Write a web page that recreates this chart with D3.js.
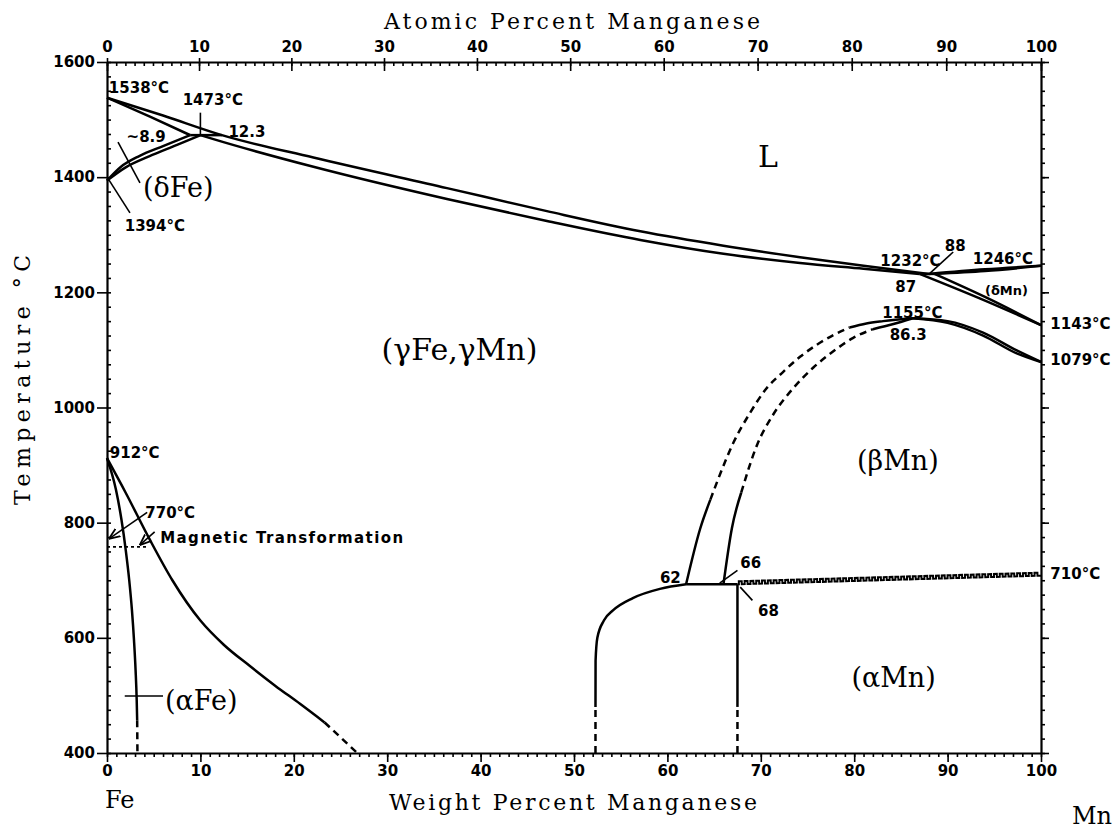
<!DOCTYPE html>
<html>
<head>
<meta charset="utf-8">
<script src="https://cdn.jsdelivr.net/npm/d3@7"></script>
<style>
  body { margin: 0; background: #fff; }
  svg { display: block; }
  .tick text { font-family: "DejaVu Sans", sans-serif; font-weight: bold; font-size: 15px; fill: #000; }
  .tick line { stroke-width: 1.6; }
  .domain { stroke-width: 2.2; }
  .lbl { font-family: "DejaVu Sans", sans-serif; font-weight: bold; font-size: 15px; }
  .small { font-family: "DejaVu Sans", sans-serif; font-weight: bold; font-size: 13px; }
  .phase { font-family: "DejaVu Serif", serif; font-size: 27px; }
  .title { font-family: "DejaVu Serif", serif; font-size: 22px; }
</style>
</head>
<body>
<div id="chart"></div>
<script>
const WIDTH = 1119;
const HEIGHT = 830;

// tick values
const WT_TICKS = d3.range(0, 101, 10);
const AT_TICKS = d3.range(0, 101, 10);
const TEMP_TICKS = d3.range(400, 1601, 200);
const WT_MINOR = d3.range(0, 101, 1);
const AT_MINOR = d3.range(0, 101, 1);
const TEMP_MINOR = d3.range(400, 1601, 25);

// phase boundaries, [wt% Mn, temperature °C]
const liquidus = [[0, 1538], [6, 1507], [12.3, 1473], [22.1, 1434], [36.4, 1381], [47.1, 1341], [57.1, 1306], [66, 1281], [74.2, 1261], [81, 1246], [88, 1232]];
const gammaSolidus = [[10, 1473], [11.4, 1466], [22.1, 1418], [36.4, 1362], [47.1, 1324], [57.1, 1291], [66, 1267], [74.2, 1251], [81, 1241], [87, 1232]];
const deltaSolidus = [[0, 1538], [4.6, 1505], [8.9, 1473]];
const peritecticFe = [[8.9, 1473], [12.3, 1473]];
const deltaGammaLow = [[0, 1394], [1.5, 1418], [3.5, 1437], [6, 1454], [8.9, 1473]];
const deltaGammaHigh = [[0, 1394], [2, 1417], [4.5, 1436], [7.5, 1456], [10, 1473]];

const deltaMnLiquidus = [[88, 1232], [94, 1240], [100, 1246]];
const deltaMnSolidus = [[88.6, 1232], [94, 1237], [100, 1246]];
const peritecticMn = [[87, 1232], [88.6, 1232]];
const gammaDeltaMnLow = [[87, 1232], [93.5, 1189], [100, 1143]];
const gammaDeltaMnHigh = [[88.6, 1232], [94, 1192], [100, 1143]];

const betaDomeUpper = [[86.3, 1155], [90, 1150], [93.8, 1130], [97.4, 1099], [100, 1079]];
const betaDomeLower = [[86.3, 1155], [90, 1147], [93.8, 1125], [97.4, 1094], [100, 1079]];
const gammaBetaLeft = [[62, 693], [63.5, 789], [64.6, 840]];
const gammaBetaLeftDashed = [[64.6, 840], [65.3, 870], [67.1, 940], [68.9, 992], [70.6, 1033], [72.4, 1062], [74.2, 1088], [76, 1109], [77.8, 1126], [79.5, 1139]];
const gammaBetaLeftTop = [[79.5, 1139], [81.3, 1146], [83.1, 1150], [86.3, 1155]];
const gammaBetaRight = [[66, 693], [66.9, 790], [67.9, 852]];
const gammaBetaRightDashed = [[67.9, 852], [69.6, 935], [71.3, 987], [73.5, 1034], [75.6, 1069], [77.8, 1098], [79.9, 1121], [82, 1136]];
const gammaBetaRightTop = [[82, 1136], [84.2, 1145], [86.3, 1155]];

const alphaSolvus = [[0, 912], [0.96, 857], [1.55, 805], [2.01, 752], [2.38, 700], [2.67, 648], [2.89, 596], [3.06, 544], [3.18, 492], [3.23, 457]];
const alphaSolvusDashed = [[3.23, 457], [3.26, 400]];
const gammaAlpha = [[0, 912], [2, 852], [4.6, 770], [7, 700], [10, 630], [12.5, 588], [15.3, 551], [18, 517], [20.7, 485], [23.3, 453]];
const gammaAlphaDashed = [[23.3, 453], [26.8, 400]];
const curieLine = [[0, 758], [4.4, 758]];

const alphaMnLeft = [[52.3, 480], [52.31, 560], [52.5, 600], [53.2, 630], [54.2, 648], [56.3, 669], [59.2, 685], [62, 693]];
const alphaMnLeftDashed = [[52.3, 400], [52.3, 480]];
const alphaMnRight = [[67.5, 480], [67.5, 693]];
const alphaMnRightDashed = [[67.5, 400], [67.5, 480]];
const eutectoid = [[62, 693], [67.5, 693]];
const alphaBetaMn = [[67.5, 693], [100, 708]];

// atomic % -> weight % (Fe 55.845, Mn 54.938)
function atToWt(a) {
    return 100 * a * 54.938 / (a * 54.938 + (100 - a) * 55.845);
}

const svg = d3.select('#chart')
    .append('svg')
    .attr('width', WIDTH)
    .attr('height', HEIGHT);

const x = d3.scaleLinear().domain([0, 100]).range([107, 1041]);
const y = d3.scaleLinear().domain([400, 1600]).range([753, 62]);
const xAt = d3.scaleLinear().domain(AT_MINOR).range(AT_MINOR.map(a => x(atToWt(a))));
const fmt = d3.format('d');

function axisGroup(tx, ty) {
    return svg.append('g').attr('transform', 'translate(' + tx + ',' + ty + ')');
}
function noDomain(g) { g.select('.domain').remove(); }

// bottom axis
axisGroup(0, y(400)).call(d3.axisBottom(x).tickValues(WT_MINOR).tickSize(4).tickFormat('')).call(noDomain);
axisGroup(0, y(400)).call(d3.axisBottom(x).tickValues(WT_TICKS).tickSize(9).tickSizeOuter(0).tickPadding(3).tickFormat(fmt));

// top axis (atomic percent)
axisGroup(0, y(1600)).call(d3.axisTop(xAt).tickValues(AT_MINOR).tickSize(-4).tickFormat('')).call(noDomain);
axisGroup(0, y(1600)).call(d3.axisTop(xAt).tickValues(AT_TICKS).tickSize(-9).tickFormat('')).call(noDomain);
axisGroup(0, y(1600)).call(d3.axisTop(xAt).tickValues(AT_TICKS).tickSize(4).tickSizeOuter(0).tickPadding(6).tickFormat(fmt));

// left axis
axisGroup(x(0), 0).call(d3.axisLeft(y).tickValues(TEMP_MINOR).tickSize(-4).tickFormat('')).call(noDomain);
axisGroup(x(0), 0).call(d3.axisLeft(y).tickValues(TEMP_TICKS).tickSize(10).tickSizeOuter(0).tickPadding(2).tickFormat(fmt));

// right axis
axisGroup(x(100), 0).call(d3.axisRight(y).tickValues(TEMP_MINOR).tickSize(4).tickFormat('')).call(noDomain);
axisGroup(x(100), 0).call(d3.axisRight(y).tickValues(TEMP_TICKS).tickSize(8).tickSizeOuter(0).tickFormat(''));

// boundaries
const plot = svg.append('g');
const line = d3.line()
    .x(d => x(d[0]))
    .y(d => y(d[1]))
    .curve(d3.curveMonotoneX);

function draw(data, dashed) {
    plot.append('path')
        .datum(data)
        .attr('d', line)
        .attr('fill', 'none')
        .attr('stroke', '#000')
        .attr('stroke-width', 2.5)
        .attr('stroke-linejoin', 'round')
        .attr('stroke-dasharray', dashed ? '7,5' : null);
}

[liquidus, gammaSolidus, deltaSolidus, peritecticFe, deltaGammaLow, deltaGammaHigh,
 deltaMnLiquidus, deltaMnSolidus, peritecticMn, gammaDeltaMnLow, gammaDeltaMnHigh,
 betaDomeUpper, betaDomeLower, gammaBetaLeft, gammaBetaLeftTop, gammaBetaRight, gammaBetaRightTop,
 alphaSolvus, gammaAlpha, alphaMnLeft, alphaMnRight, eutectoid].forEach(d => draw(d, false));

[gammaBetaLeftDashed, gammaBetaRightDashed, alphaSolvusDashed, gammaAlphaDashed,
 alphaMnLeftDashed, alphaMnRightDashed].forEach(d => draw(d, true));

plot.append('path')
    .datum(curieLine)
    .attr('d', line)
    .attr('fill', 'none')
    .attr('stroke', '#000')
    .attr('stroke-width', 1.6)
    .attr('stroke-dasharray', '3,3');

// alpha/beta Mn two-phase band drawn as a wavy line
function wavy(p0, p1, period, amp) {
    const x0 = x(p0[0]), y0 = y(p0[1]), x1 = x(p1[0]), y1 = y(p1[1]);
    const len = Math.hypot(x1 - x0, y1 - y0);
    const ux = (x1 - x0) / len, uy = (y1 - y0) / len;
    const px = uy * amp, py = -ux * amp;
    const p = d3.path();
    p.moveTo(x0, y0);
    for (let s = 0; s + period <= len; s += period) {
        const a = s + period * 0.25, b = s + period * 0.75;
        p.lineTo(x0 + ux * a, y0 + uy * a);
        p.lineTo(x0 + ux * a + px, y0 + uy * a + py);
        p.lineTo(x0 + ux * b + px, y0 + uy * b + py);
        p.lineTo(x0 + ux * b, y0 + uy * b);
    }
    p.lineTo(x1, y1);
    return p.toString();
}
plot.append('path')
    .attr('d', wavy(alphaBetaMn[0], alphaBetaMn[1], 5.8, 3))
    .attr('fill', 'none')
    .attr('stroke', '#000')
    .attr('stroke-width', 2);

// leader lines
svg.append('defs').append('marker')
    .attr('id', 'arrow')
    .attr('viewBox', '0 0 10 10')
    .attr('refX', 10).attr('refY', 5)
    .attr('markerWidth', 7).attr('markerHeight', 7)
    .attr('orient', 'auto')
    .append('path')
    .attr('d', 'M0,1L10,5L0,9')
    .attr('fill', 'none')
    .attr('stroke', '#000')
    .attr('stroke-width', 1.6);

const leaders = [
    [[10, 1512], [10, 1474], false],
    [[0.1, 1398], [2.46, 1338], false],
    [[1.18, 1461], [3.53, 1390], false],
    [[90.6, 1270], [88.1, 1233], false],
    [[4.3, 818], [0.2, 772], true],
    [[5.1, 784], [3.5, 761], true],
    [[1.9, 499], [6, 499], false],
    [[67.5, 717], [65.6, 695], false],
    [[67.8, 688], [69.1, 665], false]
];
leaders.forEach(l => {
    plot.append('line')
        .attr('x1', x(l[0][0])).attr('y1', y(l[0][1]))
        .attr('x2', x(l[1][0])).attr('y2', y(l[1][1]))
        .attr('stroke', '#000')
        .attr('stroke-width', 1.6)
        .attr('marker-end', l[2] ? 'url(#arrow)' : null);
});

// annotations: text, wt%, °C (baseline-left), class
const labels = [
    ['1538°C', 0.2, 1546, 'lbl'],
    ['1473°C', 8.1, 1526, 'lbl'],
    ['12.3', 13, 1470, 'lbl'],
    ['~8.9', 2.1, 1461, 'lbl'],
    ['1394°C', 1.9, 1306, 'lbl'],
    ['1232°C', 82.8, 1245, 'lbl'],
    ['88', 89.7, 1272, 'lbl'],
    ['1246°C', 92.7, 1250, 'lbl'],
    ['87', 84.4, 1200, 'lbl'],
    ['(δMn)', 94, 1196, 'small'],
    ['1143°C', 101, 1136, 'lbl'],
    ['1155°C', 83, 1155, 'lbl'],
    ['86.3', 83.8, 1117, 'lbl'],
    ['1079°C', 101, 1074, 'lbl'],
    ['912°C', 0.3, 912, 'lbl'],
    ['770°C', 4.1, 808, 'lbl'],
    ['710°C', 101, 702, 'lbl'],
    ['62', 59.2, 695, 'lbl'],
    ['66', 67.8, 721, 'lbl'],
    ['68', 69.7, 638, 'lbl'],
    ['(δFe)', 3.85, 1366, 'phase'],
    ['L', 69.7, 1418, 'phase'],
    ['(γFe,γMn)', 29.4, 1082, 'phase'],
    ['(βMn)', 80.3, 892, 'phase'],
    ['(αMn)', 79.7, 515, 'phase'],
    ['(αFe)', 6.2, 474, 'phase']
];
svg.selectAll('text.note')
    .data(labels)
    .enter()
    .append('text')
    .attr('class', d => 'note ' + d[3])
    .attr('x', d => x(d[1]))
    .attr('y', d => y(d[2]))
    .text(d => d[0]);

svg.selectAll('text.phase').filter(d => d[0] === '(γFe,γMn)' || d[0] === 'L').style('font-size', '30px');

svg.append('text')
    .attr('class', 'lbl')
    .attr('x', x(5.7)).attr('y', y(765))
    .attr('letter-spacing', 1.4)
    .text('Magnetic Transformation');

// axis titles
svg.append('text')
    .attr('class', 'title')
    .attr('x', 384).attr('y', 29)
    .attr('textLength', 376).attr('lengthAdjust', 'spacing')
    .text('Atomic Percent Manganese');

svg.append('text')
    .attr('class', 'title')
    .attr('x', 389).attr('y', 810)
    .attr('textLength', 368).attr('lengthAdjust', 'spacing')
    .text('Weight Percent Manganese');

svg.append('text')
    .attr('class', 'title')
    .attr('transform', 'translate(30,505) rotate(-90)')
    .attr('textLength', 250).attr('lengthAdjust', 'spacing')
    .text('Temperature °C');

svg.append('text').attr('class', 'title').attr('x', 105).attr('y', 808).style('font-size', '24px').text('Fe');
svg.append('text').attr('class', 'title').attr('x', 1072).attr('y', 824).style('font-size', '24px').text('Mn');
</script>
</body>
</html>
